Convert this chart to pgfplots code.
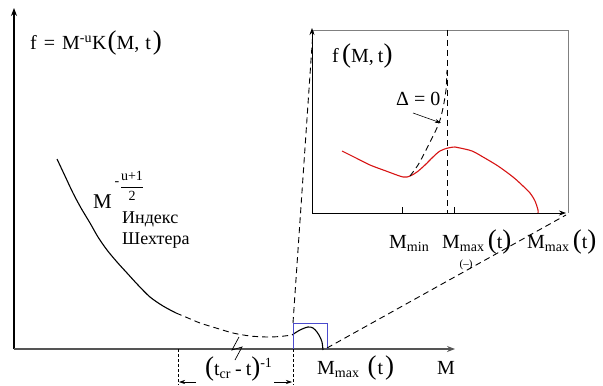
\documentclass[border=0pt]{standalone}
\usepackage{fontspec}
\setmainfont{Liberation Serif}
\usepackage{amsmath}
\usepackage{pgfplots}
\pgfplotsset{compat=1.18}
\usetikzlibrary{arrows.meta}
\definecolor{curvered}{RGB}{215,20,20}
\definecolor{boxblue}{RGB}{75,75,205}
\definecolor{axisgray}{RGB}{85,85,85}
\newcommand{\lp}{{\fontsize{27}{27}\selectfont(}}
\newcommand{\rp}{{\fontsize{27}{27}\selectfont)}}
\newcommand{\labfont}{\fontsize{20}{22}\selectfont}

\begin{document}
\begin{tikzpicture}
\begin{axis}[
  scale only axis, width=603pt, height=385pt,
  xmin=0, xmax=603, ymin=0, ymax=385, y dir=reverse,
  axis lines=none, clip=false,
  every axis plot/.append style={no marks},
  longdash/.style={dash pattern=on 6pt off 4pt},
]
% keep the full canvas
\path (rel axis cs:0,0) rectangle (rel axis cs:1,1);

% main axes
\addplot[black, line width=1.1pt, -{Stealth[length=8pt,width=6pt]}] coordinates {(14,349) (14,8)};
\addplot[axisgray, line width=1.6pt, -{Stealth[length=8pt,width=6pt]}] coordinates {(14,349) (455,349)};

% main curve
\addplot[black, line width=1.1pt, smooth] coordinates {
  (57,159) (65,176) (73,193) (81,208) (90,223) (98,237) (107,250)
  (117,262) (127,273) (138,285) (150,297) (163,306) (176,313)};
\addplot[black, line width=0.9pt, longdash, smooth] coordinates {
  (176,313) (188,318) (200,323) (216,328) (233,333) (250,336)
  (267,337) (280,336.5) (292,335)};
\addplot[black, line width=1.1pt, smooth] coordinates {
  (292,335) (300,330) (308,327) (313,328) (317,332) (320,337) (322,342) (323,350)};

% small box
\addplot[boxblue, line width=0.8pt] coordinates {(293,349) (293,323) (327,323) (327,349)};

% connecting lines
\addplot[black, line width=0.9pt, longdash] coordinates {(293,323) (313,31)};
\addplot[black, line width=0.9pt, longdash] coordinates {(327,348) (566,215)};

% break mark
\addplot[black, line width=0.7pt] coordinates {(239,337) (232,350) (242,347) (235,360)};

% dimension
\addplot[black, line width=0.6pt, densely dashed] coordinates {(178,349) (178,385)};
\addplot[black, line width=0.6pt, densely dashed] coordinates {(293,349) (293,385)};
\addplot[black, line width=0.6pt, -{Stealth[length=6pt,width=4pt]}] coordinates {(196,382) (179,382)};
\addplot[black, line width=0.6pt, -{Stealth[length=6pt,width=4pt]}] coordinates {(274,382) (292,382)};

% inset
\addplot[gray, line width=0.6pt] coordinates {(312,30) (568,30) (568,213)};
\addplot[black, line width=0.8pt, -{Stealth[length=7pt,width=5pt]}] coordinates {(312,213) (312,28)};
\addplot[black, line width=0.8pt, -{Stealth[length=7pt,width=5pt]}] coordinates {(312,213) (566,213)};
\addplot[black, line width=0.6pt] coordinates {(402,207) (402,213)};
\addplot[black, line width=0.6pt] coordinates {(454,207) (454,213)};
\addplot[black, line width=0.9pt, longdash] coordinates {(447,30) (447,213)};
\addplot[curvered, line width=1.1pt, smooth] coordinates {
  (342,151) (356,158) (370,165) (386,171) (403,177) (410,176) (417,172)
  (425,165) (433,157) (440,151) (448,148) (455,147) (460,148) (472,151)
  (483,157) (498,166) (513,177) (523,186) (530,193) (535,201) (538,210) (538,213)};
\addplot[black, line width=0.9pt, longdash, smooth] coordinates {
  (410,176) (418,165) (425,152) (431,140) (436,130) (440,120) (443,108) (446,90) (447,70)};
\addplot[black, line width=0.6pt, -{Stealth[length=6pt,width=4pt]}] coordinates {(413,113) (441,123)};

% labels
\node[anchor=base west, inner sep=0, font=\labfont] at (axis cs:30,50)
  {f\hspace{0.35em}=\hspace{0.35em}M\textsuperscript{-u}K\hspace{0.05em}\lp M,\hspace{0.3em}t\hspace{0.1em}\rp};
\node[anchor=base west, inner sep=0, font=\fontsize{21}{22}\selectfont] at (axis cs:93,208) {M};
\node[inner sep=0, font=\fontsize{14}{15}\selectfont] at (axis cs:117,184) {-};
\node[inner sep=0, font=\fontsize{14}{15}\selectfont] at (axis cs:132,186) {$\genfrac{}{}{0.5pt}{0}{\text{u+1}}{\text{2}}$};
\node[anchor=base west, inner sep=0, font=\fontsize{18}{19}\selectfont] at (axis cs:122,223) {Индекс};
\node[anchor=base west, inner sep=0, font=\fontsize{18}{19}\selectfont] at (axis cs:122,244) {Шехтера};

\node[anchor=base west, inner sep=0, font=\labfont] at (axis cs:205,375)
  {\lp t\textsubscript{cr}\hspace{0.2em}-\hspace{0.2em}t\rp\textsuperscript{-1}};
\node[anchor=base west, inner sep=0, font=\labfont] at (axis cs:317,374) {M\textsubscript{max}\hspace{0.4em}\lp\hspace{0.05em}t\hspace{0.1em}\rp};
\node[anchor=base west, inner sep=0, font=\labfont] at (axis cs:437,374) {M};

\node[anchor=base west, inner sep=0, font=\labfont] at (axis cs:332,63) {f\,\lp M,\hspace{0.2em}t\rp};
\node[anchor=base west, inner sep=0, font=\labfont] at (axis cs:396,106) {Δ = 0};
\node[anchor=base west, inner sep=0, font=\labfont] at (axis cs:389,248) {M\textsubscript{min}};
\node[anchor=base west, inner sep=0, font=\labfont] at (axis cs:442,248) {M\textsubscript{max}\,\lp t\rp};
\node[inner sep=0, font=\fontsize{11}{12}\selectfont] at (axis cs:466,265) {(--)};
\node[anchor=base west, inner sep=0, font=\labfont] at (axis cs:527,248) {M\textsubscript{max}\,\lp t\rp};
\end{axis}
\end{tikzpicture}
\end{document}
